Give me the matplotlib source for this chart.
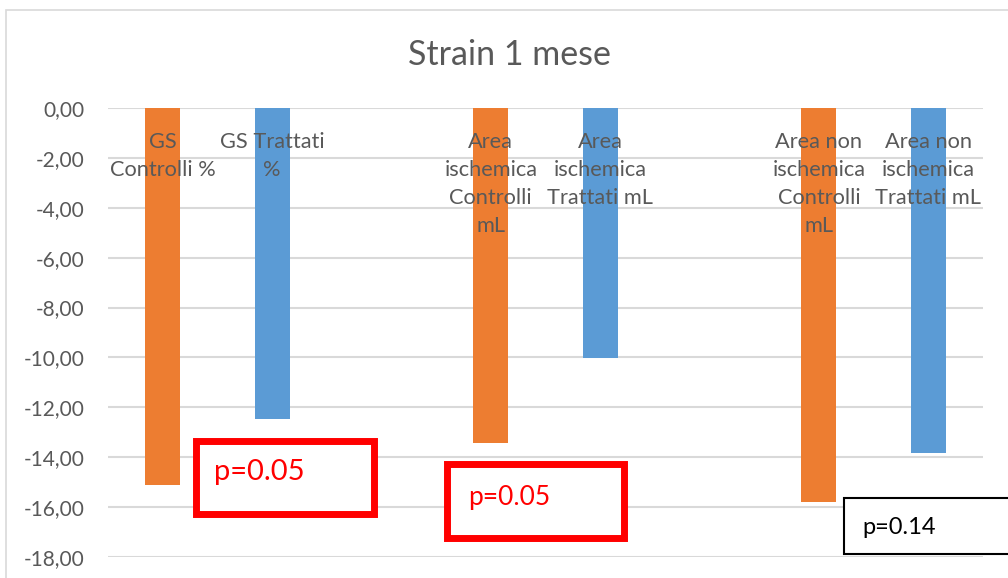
import matplotlib.pyplot as plt
from matplotlib.patches import Rectangle
from matplotlib.ticker import FuncFormatter, MultipleLocator

# Strain values at one month, one bar per group, gaps between the three pairs
labels = [
    "GS\nControlli %",
    "GS Trattati\n%",
    "Area\nischemica\nControlli\nmL",
    "Area\nischemica\nTrattati mL",
    "Area non\nischemica\nControlli\nmL",
    "Area non\nischemica\nTrattati mL",
]
values = [-15.12, -12.48, -13.41, -10.02, -15.80, -13.84]
slots = [0, 1, 3, 4, 6, 7]
groups = ["Controlli", "Trattati", "Controlli", "Trattati", "Controlli", "Trattati"]
p_labels = ["p=0.05", "p=0.05", "p=0.14"]

ORANGE = "#ED7D31"
BLUE = "#5B9BD5"
GREY_TXT = "#595959"
GRID = "#D9D9D9"

W, H = 1008, 578
plt.rcParams["font.family"] = ["Lato", "DejaVu Sans"]

fig = plt.figure(figsize=(W / 100, H / 100), dpi=100)


def fx(px):
    return px / W


def fy(py):
    return 1 - py / H


# plot area in pixel terms: x 108..983, y 108..557
ax = fig.add_axes([fx(108), fy(557), fx(983) - fx(108), fy(108) - fy(557)])

colors = [ORANGE if g == "Controlli" else BLUE for g in groups]
ax.bar(slots, values, width=0.32, color=colors, zorder=2)

for x, lab in zip(slots, labels):
    ax.text(x, -0.95, lab, ha="center", va="top", fontsize=15.7,
            color=GREY_TXT, linespacing=1.5, zorder=3)

ax.set_xlim(-0.5, 7.5)
ax.set_ylim(-18, 0)
ax.yaxis.set_major_locator(MultipleLocator(2))
ax.yaxis.set_major_formatter(
    FuncFormatter(lambda v, _: f"{abs(v) if v == 0 else v:.2f}".replace(".", ","))
)
ax.tick_params(axis="y", length=0, pad=17, labelsize=15, labelcolor=GREY_TXT)
ax.set_xticks([])
ax.grid(axis="y", color=GRID, linewidth=1.5, zorder=0)
ax.set_axisbelow(True)
for s in ax.spines.values():
    s.set_visible(False)

fig.text(fx(509), fy(55), "Strain 1 mese", ha="center", va="center",
         fontsize=24.5, color=GREY_TXT)

# outer chart frame
fig.patches.append(Rectangle((fx(6), fy(590)), fx(1010) - fx(6), fy(10) - fy(590),
                             transform=fig.transFigure, fill=False,
                             edgecolor=GRID, linewidth=1.2))


def p_box(x0, y0, x1, y1, text, color, lw, size, tx, ty):
    fig.patches.append(Rectangle((fx(x0), fy(y1)), fx(x1) - fx(x0), fy(y0) - fy(y1),
                                 transform=fig.transFigure, facecolor="white",
                                 edgecolor=color, linewidth=lw, zorder=5))
    fig.text(fx(tx), fy(ty), text, ha="left", va="center", fontsize=size,
             color=color, zorder=6)


p_box(195.5, 440.5, 373.5, 513.5, p_labels[0], "red", 5, 21, 214, 472)
p_box(446.5, 463.5, 623.5, 537.5, p_labels[1], "red", 5, 19, 468, 497)
p_box(844, 498, 1012, 554, p_labels[2], "black", 1.5, 17, 862, 528)

fig.savefig("out.png", dpi=100)
